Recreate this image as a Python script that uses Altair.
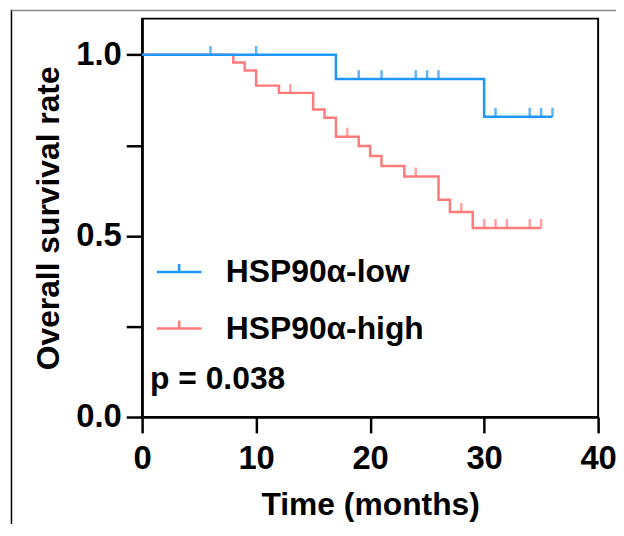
import altair as alt
import pandas as pd

# ---- data ----
groups = ["HSP90α-low", "HSP90α-high"]
colors = ["#1e96fa", "#ff7b7b"]

low_time = [0, 17, 30, 36]
low_surv = [1.0, 0.933, 0.829, 0.829]
high_time = [0, 8, 9, 10, 12, 15, 16, 17, 19, 20, 21, 23, 26, 27, 29, 35]
high_surv = [1.0, 0.979, 0.957, 0.915, 0.895, 0.849, 0.826, 0.774, 0.748,
             0.721, 0.693, 0.664, 0.600, 0.566, 0.522, 0.522]
low_censor = [6, 10, 19, 21, 24, 25, 26, 31, 34, 35, 36]
high_censor = [13, 18, 24, 28, 30, 31, 32, 34, 35]

x_ticks = [0, 10, 20, 30, 40]
y_ticks = [0, 0.25, 0.5, 0.75, 1.0]
p_text = "p = 0.038"

FONT = "Liberation Sans"


def level(times, survs, t):
    s = survs[0]
    for ti, si in zip(times, survs):
        if ti <= t:
            s = si
    return s


low_df = pd.DataFrame({"group": groups[0], "time": low_time, "surv": low_surv})
high_df = pd.DataFrame({"group": groups[1], "time": high_time, "surv": high_surv})
cens_df = pd.DataFrame(
    [{"group": groups[0], "time": t, "surv": level(low_time, low_surv, t)} for t in low_censor]
    + [{"group": groups[1], "time": t, "surv": level(high_time, high_surv, t)} for t in high_censor]
)

xs = alt.Scale(domain=[0, 40], nice=False)
ys = alt.Scale(domain=[0, 1.1], nice=False)
cs = alt.Scale(domain=groups, range=colors)

x_axis = alt.Axis(values=x_ticks, format="d", title="Time (months)", grid=False,
                  tickSize=16, tickWidth=2.5, domainWidth=2.5, domainColor="black",
                  tickColor="black", labelPadding=10, labelFontSize=33,
                  labelFlush=False, labelOverlap=False,
                  labelFont=FONT, labelFontWeight="bold", labelColor="black",
                  titleFont=FONT, titleFontSize=32, titleFontWeight="bold",
                  titleColor="black", titleX=229.5, titleY=98,
                  titleBaseline="alphabetic", titleAlign="center")
y_axis = alt.Axis(values=y_ticks,
                  labelExpr="(datum.value == 0.25 || datum.value == 0.75) ? '' : format(datum.value, '.1f')",
                  title="Overall survival rate", grid=False,
                  tickSize=16, tickWidth=2.5, domainWidth=2.5, domainColor="black",
                  tickColor="black", labelPadding=5, labelFontSize=33,
                  labelFlush=False, labelOverlap=False,
                  labelFont=FONT, labelFontWeight="bold", labelColor="black",
                  titleFont=FONT, titleFontSize=32, titleFontWeight="bold",
                  titleColor="black", titleX=-84, titleY=200.5, titleAngle=270,
                  titleBaseline="alphabetic", titleAlign="center")

legend = alt.Legend(title=None, orient="none", legendX=13.3, legendY=231,
                    symbolType="M-1,0H1M0,0V-0.36", symbolSize=2025,
                    symbolStrokeWidth=2.5, labelFontSize=32, labelFont=FONT,
                    labelFontWeight="bold", labelColor="black", labelOffset=23,
                    labelLimit=0, rowPadding=17, padding=0)

high_line = alt.Chart(high_df).mark_line(interpolate="step-after", strokeWidth=2.5).encode(
    x=alt.X("time:Q", scale=xs, axis=x_axis),
    y=alt.Y("surv:Q", scale=ys, axis=y_axis),
    color=alt.Color("group:N", scale=cs, legend=legend),
)
low_line = alt.Chart(low_df).mark_line(interpolate="step-after", strokeWidth=2.5).encode(
    x=alt.X("time:Q", scale=xs),
    y=alt.Y("surv:Q", scale=ys),
    color=alt.Color("group:N", scale=cs, legend=legend),
)
ticks = alt.Chart(cens_df).mark_tick(orient="vertical", size=9, thickness=2.5, yOffset=-4.5).encode(
    x=alt.X("time:Q", scale=xs),
    y=alt.Y("surv:Q", scale=ys),
    color=alt.Color("group:N", scale=cs, legend=None),
)

ptext = alt.Chart(pd.DataFrame({"t": [p_text]})).mark_text(
    align="left", baseline="alphabetic", fontSize=32, font=FONT,
    fontWeight="bold", color="black"
).encode(x=alt.value(8), y=alt.value(373), text="t:N")

panel_left = alt.Chart(pd.DataFrame({"a": [0]})).mark_rule(color="black", strokeWidth=1.5).encode(
    x=alt.value(-131.5), y=alt.value(-9), y2=alt.value(520))
panel_top = alt.Chart(pd.DataFrame({"a": [0]})).mark_rule(color="#888888", strokeWidth=1.5).encode(
    x=alt.value(-131.5), x2=alt.value(481), y=alt.value(-8.2))

chart = alt.layer(high_line, low_line, ticks, ptext, panel_left, panel_top).properties(
    width=459, height=401, autosize="none",
    padding={"left": 135, "top": 9, "right": 18, "bottom": 106},
    background="white",
).configure_view(stroke="black", strokeWidth=2)

chart.save("out.html", embed_options={"renderer": "svg", "actions": False})
